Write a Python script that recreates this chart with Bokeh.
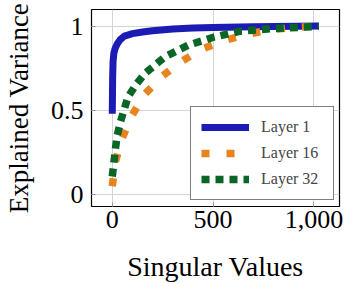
from bokeh.plotting import figure
from bokeh.models import FixedTicker, Legend, LegendItem, Range1d
from bokeh.embed import file_html
from bokeh.resources import INLINE

# ---- data ----
x_l1 = [0, 2, 4, 8, 15, 25, 40, 60, 100, 150, 200, 300, 400, 500, 700, 1024]
y_l1 = [0.48, 0.70, 0.79, 0.84, 0.87, 0.895, 0.92, 0.94, 0.955, 0.965, 0.972, 0.982, 0.988, 0.992, 0.996, 1.0]

x_l16 = [0, 16, 49, 98, 160, 245, 343, 449, 559, 683, 800, 931, 1024]
y_l16 = [0.05, 0.197, 0.335, 0.47, 0.595, 0.70, 0.79, 0.866, 0.915, 0.955, 0.98, 0.994, 1.0]

x_l32 = [0, 8, 16, 25, 41, 78, 122, 163, 261, 376, 506, 637, 800, 1024]
y_l32 = [0.108, 0.19, 0.275, 0.354, 0.433, 0.58, 0.66, 0.72, 0.817, 0.886, 0.935, 0.97, 0.985, 0.998]

x_ticks = [0, 500, 1000]
x_tick_labels = ["0", "500", "1,000"]
y_ticks = [0, 0.5, 1]
y_tick_labels = ["0", "0.5", "1"]

series_names = ["Layer 1", "Layer 16", "Layer 32"]
x_title = "Singular Values"
y_title = "Explained Variance"

SERIF = "Liberation Serif"

p = figure(width=344, height=284, output_backend="svg", toolbar_location=None,
           x_range=Range1d(-103, 1127), y_range=Range1d(-0.07, 1.098),
           min_border_left=89, min_border_right=5, min_border_top=9, min_border_bottom=77)
p.outline_line_color = "black"
p.outline_line_width = 1.2
p.background_fill_color = "white"

r1 = p.line(x_l1, y_l1, line_color="#1c1cb4", line_width=7, line_join="round")
r16 = p.line(x_l16, y_l16, line_color="#e8841f", line_width=7.5, line_dash="8 17", line_cap="butt")
r32 = p.line(x_l32, y_l32, line_color="#0a6626", line_width=7.5, line_dash="8 6", line_cap="butt")

for ax, ticks, labels in ((p.xaxis[0], x_ticks, x_tick_labels), (p.yaxis[0], y_ticks, y_tick_labels)):
    ax.ticker = FixedTicker(ticks=ticks)
    ax.major_label_overrides = {t: l for t, l in zip(ticks, labels)}
    ax.minor_tick_line_color = None
    ax.major_tick_in = 4
    ax.major_tick_out = 0
    ax.major_tick_line_color = "#999999"
    ax.axis_line_color = None
    ax.major_label_text_font = SERIF
    ax.major_label_text_font_size = "26px"
    ax.major_label_text_color = "black"
    ax.axis_label_text_font = SERIF
    ax.axis_label_text_font_style = "normal"
    ax.axis_label_text_color = "black"

p.xaxis.axis_label = x_title
p.xaxis.axis_label_text_font_size = "28px"
p.xaxis.major_label_standoff = 4
p.xaxis.axis_label_standoff = 20
p.yaxis.axis_label = y_title
p.yaxis.axis_label_text_font_size = "27px"
p.yaxis.major_label_standoff = 8
p.yaxis.axis_label_standoff = 14

p.grid.grid_line_color = "#d4d4d4"
p.grid.grid_line_width = 1

legend = Legend(items=[LegendItem(label=series_names[0], renderers=[r1]),
                       LegendItem(label=series_names[1], renderers=[r16]),
                       LegendItem(label=series_names[2], renderers=[r32])],
                location=(99, 6))
legend.border_line_color = "black"
legend.border_line_width = 1.2
legend.background_fill_alpha = 1
legend.label_text_font = SERIF
legend.label_text_font_size = "16px"
legend.glyph_width = 48
legend.glyph_height = 20
legend.label_height = 20
legend.label_width = 62
legend.label_standoff = 12
legend.spacing = 6
legend.padding = 10
legend.margin = 0
p.add_layout(legend, "center")

open("out.html", "w").write(file_html(p, INLINE))
